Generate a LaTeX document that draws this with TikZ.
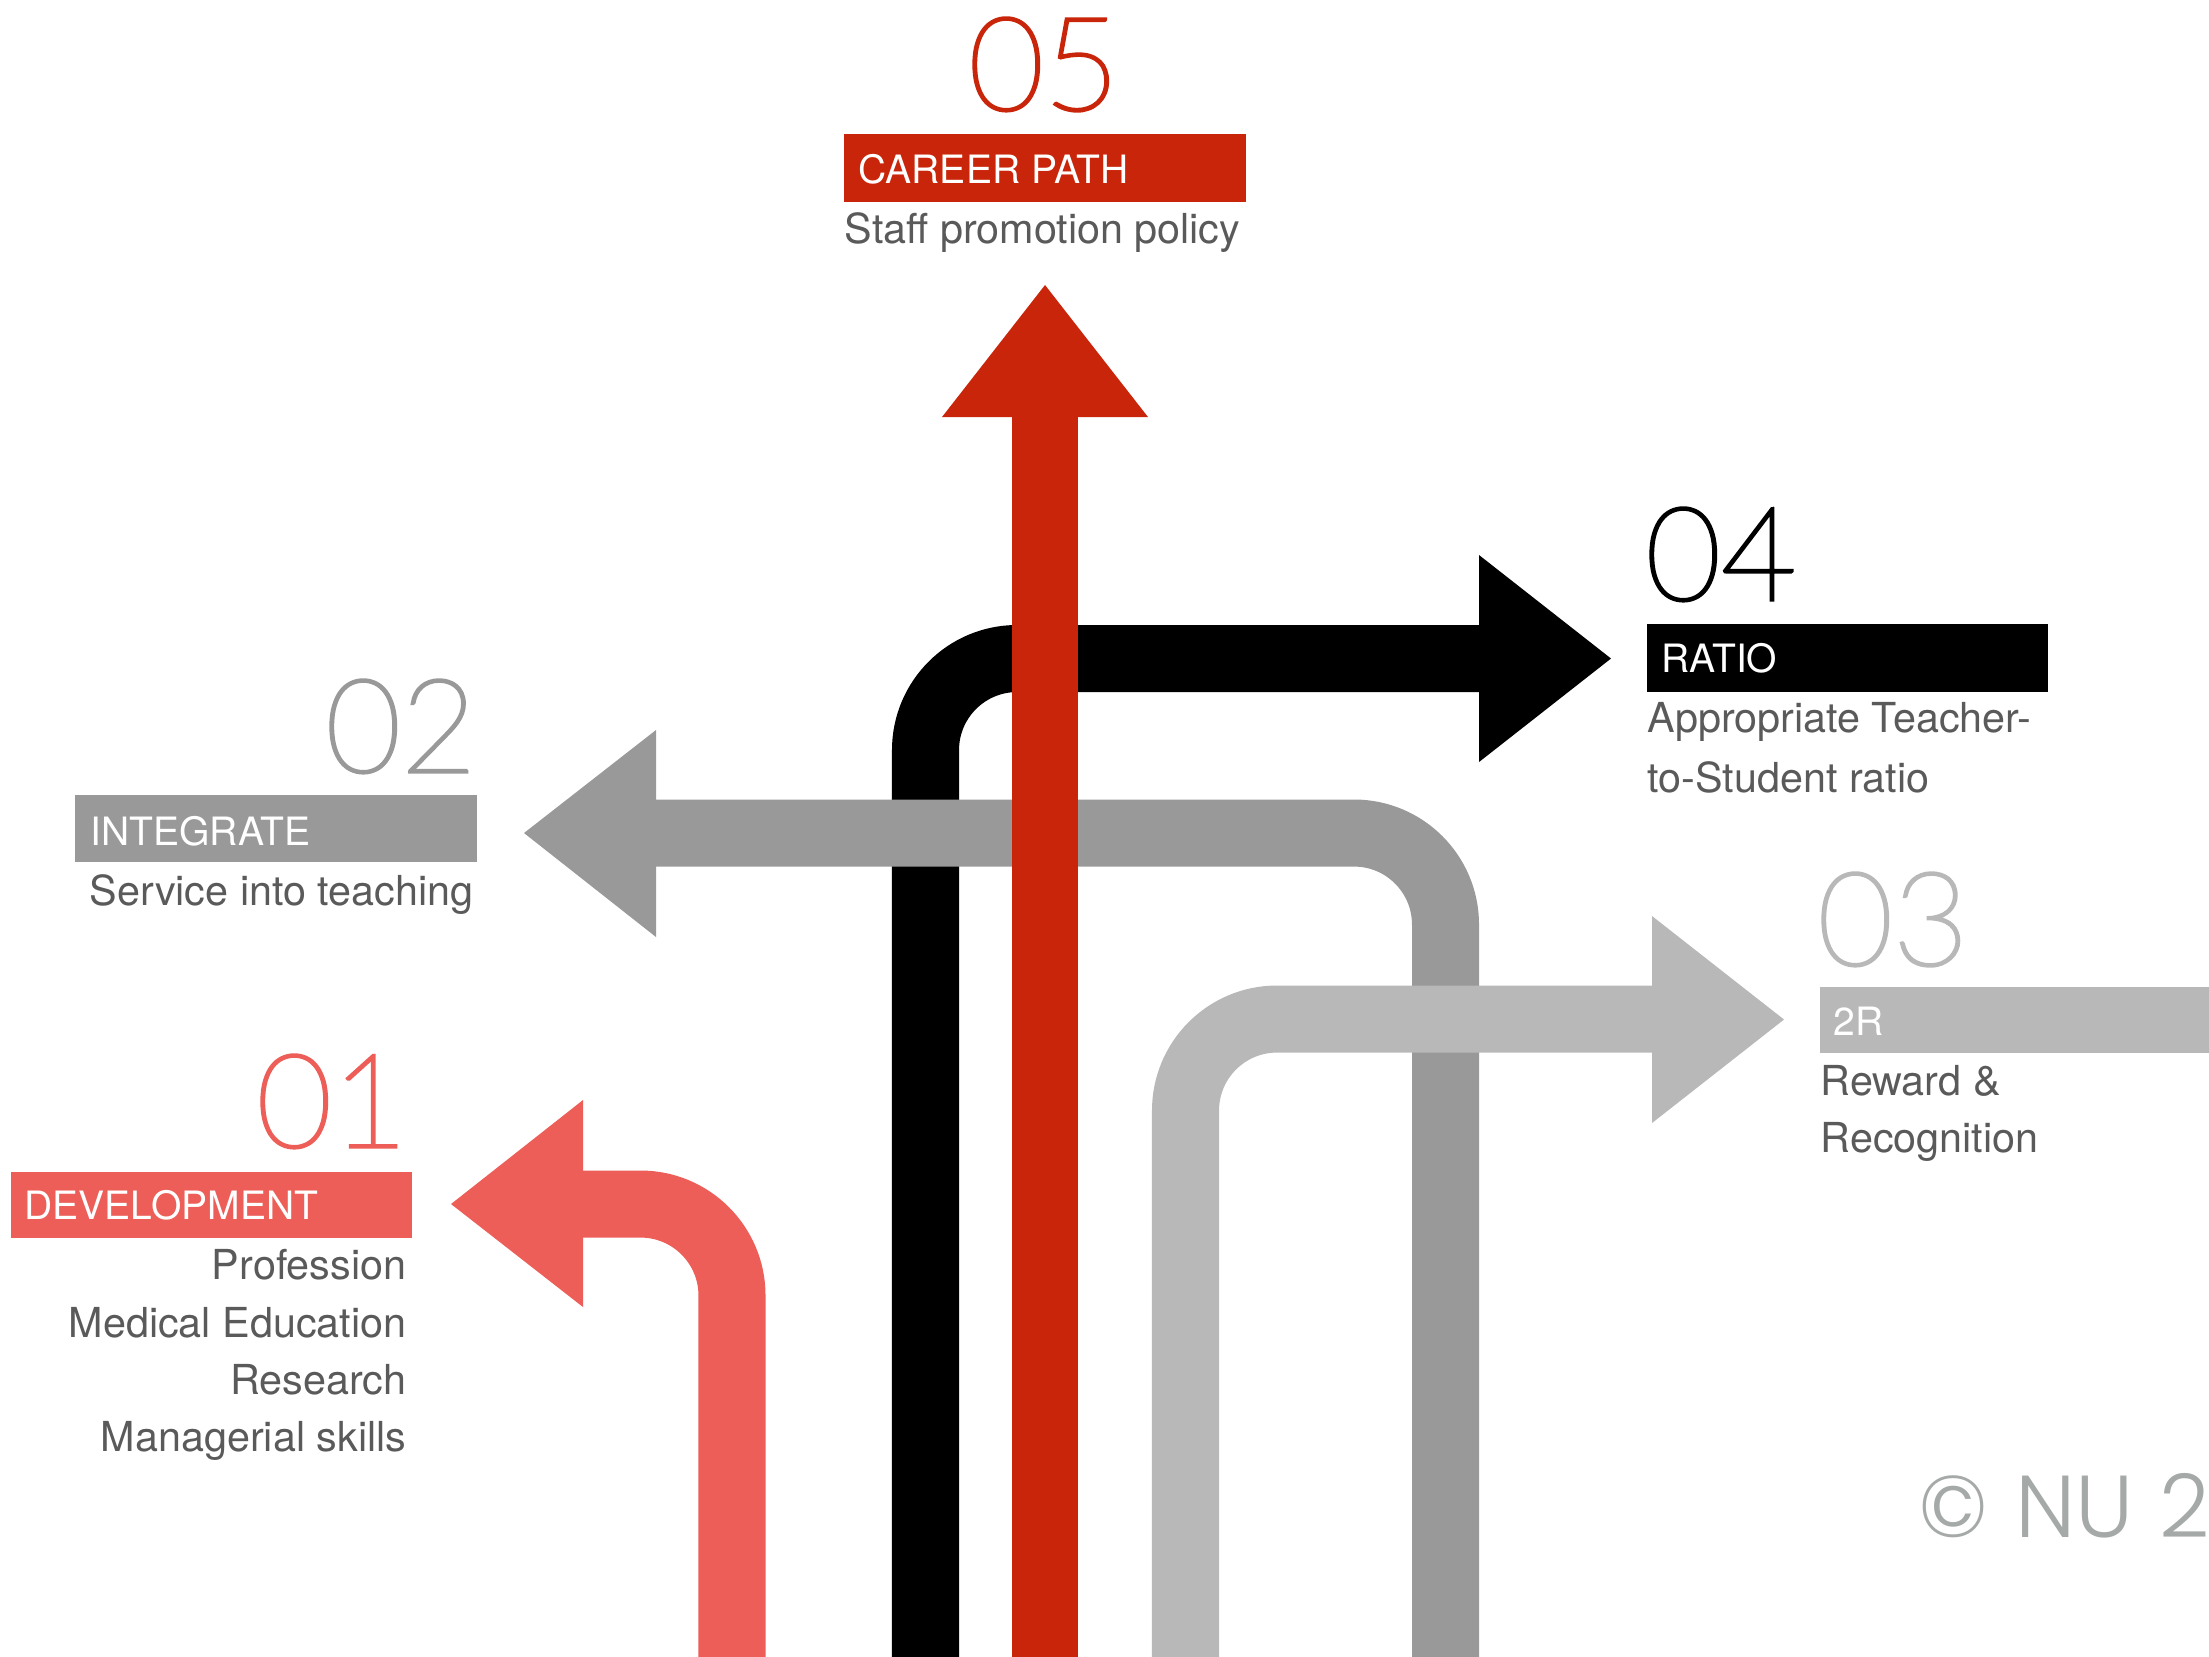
\documentclass[tikz,border=0pt]{standalone}
\usepackage{fontspec}
\setmainfont{TeX Gyre Heros}
\IfFontExistsTF{Lato Thin}{\newfontfamily\numfont{Lato Thin}[FakeBold=2.5]}{\newfontfamily\numfont{TeX Gyre Heros}}
\IfFontExistsTF{Poppins Light}{\newfontfamily\copyfont{Poppins Light}}{\newfontfamily\copyfont{Poppins}}
\definecolor{cred}{RGB}{200,37,10}
\definecolor{salmon}{RGB}{236,94,87}
\definecolor{gtwo}{RGB}{153,153,153}
\definecolor{gthree}{RGB}{184,184,184}
\definecolor{txtgray}{RGB}{90,90,90}
\definecolor{copygray}{RGB}{165,169,168}
\begin{document}
\begin{tikzpicture}[x=0.01cm,y=-0.01cm,
  band/.style={line width=0.67cm, rounded corners=0.915cm},
  num/.style={font=\numfont\fontsize{37}{37}\selectfont, inner sep=0, anchor=base},
  tag/.style={font=\fontsize{11.1}{12}\selectfont, text=white, inner sep=0, anchor=base west},
  body/.style={font=\fontsize{11.75}{13}\selectfont, text=txtgray, inner sep=0}]
\useasboundingbox (0,0) rectangle (2209,1656);
% 04 black
\draw[band, draw=black] (925.5,1700) -- (925.5,658.5) -- (1480,658.5);
\fill[black] (1479,555) -- (1611,658.5) -- (1479,762) -- cycle;
% 02 gray
\draw[band, draw=gtwo] (655,833) -- (1445.5,833) -- (1445.5,1700);
\fill[gtwo] (656,730) -- (524,833) -- (656,937) -- cycle;
% 03 light gray
\draw[band, draw=gthree] (1185.5,1700) -- (1185.5,1019) -- (1653,1019);
\fill[gthree] (1652,916) -- (1784,1019.5) -- (1652,1123) -- cycle;
% 05 red
\draw[line width=0.66cm, draw=cred] (1045,1700) -- (1045,416);
\fill[cred] (942,417) -- (1045,285) -- (1148,417) -- cycle;
% 01 salmon
\draw[band, draw=salmon] (732,1700) -- (732,1204) -- (582,1204);
\fill[salmon] (583,1100) -- (451,1204) -- (583,1307) -- cycle;

% label boxes
\fill[cred] (844,134) rectangle (1246,202);
\fill[black] (1647,624) rectangle (2048,692);
\fill[gtwo] (75,795) rectangle (477,862);
\fill[gthree] (1820,987) rectangle (2215,1053);
\fill[salmon] (11,1172) rectangle (412,1238);

% numbers
\node[num, text=cred] (n5) at (1044,110) {05};
\node[num, text=black] (n4) at (1721,600) {04};
\node[num, text=gtwo] (n2) at (401,772) {02};
\node[num, text=gthree] (n3) at (1893,965) {03};
\node[num, text=salmon] (n1) at (332,1147) {01};

% tags
\node[tag] (t5) at (858,183) {CAREER PATH};
\node[tag] (t4) at (1661,672) {RATIO};
\node[tag] (t2) at (90,845) {INTEGRATE};
\node[tag] (t3) at (1833,1035) {2R};
\node[tag] (t1) at (24,1219) {DEVELOPMENT};

% body texts
\node[body, anchor=base west] (b5) at (844,243) {Staff promotion policy};
\node[body, anchor=base west] (b4a) at (1647,732) {Appropriate Teacher-};
\node[body, anchor=base west] (b4b) at (1647,792) {to-Student ratio};
\node[body, anchor=base east] (b2) at (474,905) {Service into teaching};
\node[body, anchor=base west] (b3a) at (1820,1095) {Reward \&};
\node[body, anchor=base west] (b3b) at (1820,1152) {Recognition};
\node[body, anchor=base east] (b1a) at (407,1279) {Profession};
\node[body, anchor=base east] (b1b) at (407,1337) {Medical Education};
\node[body, anchor=base east] (b1c) at (407,1394) {Research};
\node[body, anchor=base east] (b1d) at (407,1451) {Managerial skills};

% copyright
\node[font=\copyfont\fontsize{25}{25}\selectfont, text=copygray, inner sep=0, anchor=base west] (cp) at (1918,1537) {©\hspace{0.3em}NU\hspace{0.3em}2};
\end{tikzpicture}
\end{document}
